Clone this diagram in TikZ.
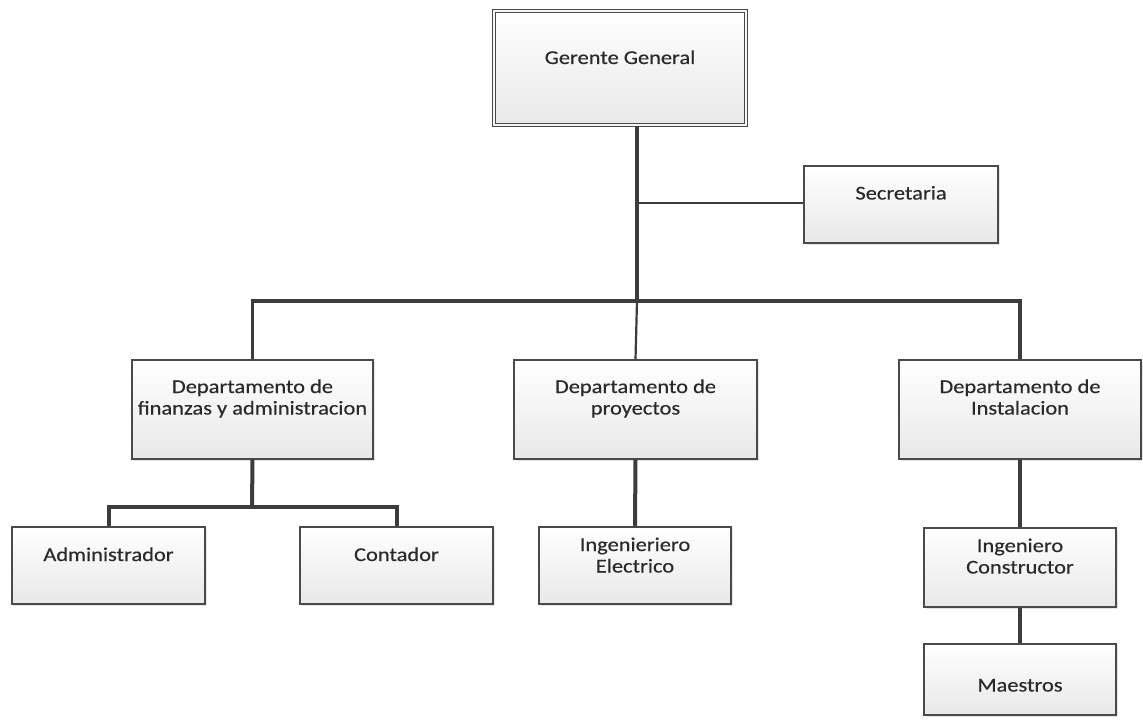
\documentclass[tikz,border=0pt]{standalone}
\usepackage{fontspec}
\setmainfont{Carlito}[FakeStretch=1.15, FakeBold=0.4]
\usetikzlibrary{shadows}
\definecolor{txt}{HTML}{2A2A2A}
\definecolor{edge}{HTML}{4A4A4A}
\definecolor{conncol}{HTML}{3C3C3C}
\begin{document}
\begin{tikzpicture}[x=1bp,y=-1bp,
  box/.style={draw=edge, line width=1.2bp, rectangle, top color=white, bottom color=black!9,
    drop shadow={shadow xshift=1.5bp, shadow yshift=-1.5bp, opacity=.25, fill=black!40},
    text=txt, align=center, inner sep=0pt,
    font=\fontsize{19.5bp}{21.5bp}\selectfont, text height=14bp},
  conn/.style={draw=conncol, line width=4bp},
  connmid/.style={draw=conncol, line width=3.4bp},
  connthin/.style={draw=conncol, line width=2.2bp}]
\useasboundingbox[fill=white] (0,0) rectangle (1143,725);

% nodes
\node[box, double=black!4, double distance=1.6bp, line width=1bp,
      minimum width=252.5bp, minimum height=114.5bp, text depth=22bp] (gg) at (620,68) {Gerente General};
\node[box, minimum width=194bp, minimum height=77bp, text depth=24bp] (sec) at (901,204.5) {Secretaria};
\node[box, minimum width=241bp, minimum height=99bp, text depth=4bp] (dfa) at (252.5,409.5) {Departamento de\\finanzas y administracion};
\node[box, minimum width=243bp, minimum height=99bp, text depth=4bp] (dp) at (635.5,409.5) {Departamento de\\proyectos};
\node[box, minimum width=242bp, minimum height=99bp, text depth=4bp] (di) at (1020,409.5) {Departamento de\\Instalacion};
\node[box, minimum width=193bp, minimum height=77bp, text depth=23bp] (adm) at (108.5,565.5) {Administrador};
\node[box, minimum width=193bp, minimum height=77bp, text depth=23bp] (con) at (396.5,565.5) {Contador};
\node[box, minimum width=192bp, minimum height=77bp, text depth=0bp] (ie) at (635,565.5) {Ingenieriero\\Electrico};
\node[box, minimum width=192bp, minimum height=79bp, text depth=2bp] (ic) at (1020,567.5) {Ingeniero\\Constructor};
\node[box, minimum width=192bp, minimum height=71bp, text height=24bp, text depth=0bp] (mae) at (1020,679.5) {Maestros};

% junctions
\coordinate (bus) at (637,301);
\coordinate (secj) at (637,203);
\coordinate (fsplit) at (252,507);

% connectors
\draw[connmid] (gg.south -| bus) -- (bus);
\draw[connthin] (secj) -- (sec.west |- secj);
\draw[connmid] (dfa.north) |- (bus) -| (di.north);
\draw[connthin] (bus) -- (dp.north);
\draw[conn] (dfa.south) -- (fsplit);
\draw[conn] (adm.north) |- (fsplit) -| (con.north);
\draw[conn] (dp.south) -- (ie.north);
\draw[conn] (di.south) -- (ic.north);
\draw[conn] (ic.south) -- (mae.north);
\end{tikzpicture}
\end{document}
